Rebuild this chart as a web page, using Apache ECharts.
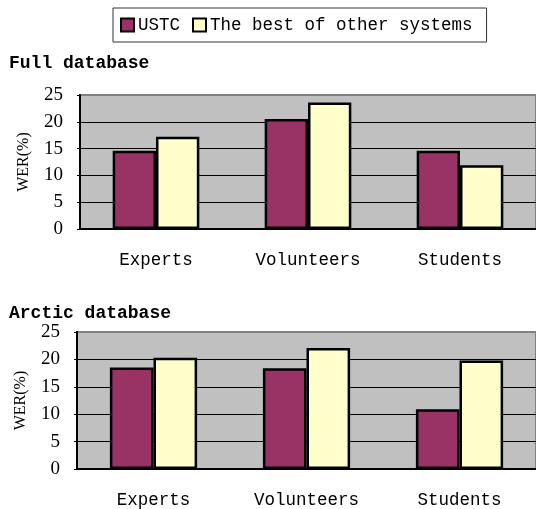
<!DOCTYPE html>
<html>
<head>
<meta charset="utf-8">
<script src="https://cdn.jsdelivr.net/npm/echarts@6/dist/echarts.min.js"></script>
<style>
  html, body { margin: 0; padding: 0; background: #fff; }
  #chart { width: 536px; height: 509px; }
</style>
</head>
<body>
<div id="chart"></div>
<script>
  // data
  var categories = ['Experts', 'Volunteers', 'Students'];
  var seriesNames = ['USTC', 'The best of other systems'];
  var fullUstc = [14.6, 20.5, 14.6];
  var fullBest = [17.2, 23.6, 11.9];
  var arcticUstc = [18.5, 18.4, 10.9];
  var arcticBest = [20.3, 22.1, 19.8];
  var yTicks = [0, 5, 10, 15, 20, 25];

  var colors = ['#993366', '#ffffcc'];
  var mono = 'Liberation Mono';
  var serif = 'Liberation Serif';

  let myChart = echarts.init(document.getElementById('chart'));

  function xAxis(idx) {
    return {
      type: 'category',
      gridIndex: idx,
      data: categories,
      axisLine: { lineStyle: { color: '#000', width: 2 } },
      axisTick: { inside: true, length: 6, lineStyle: { color: '#000', width: 1 } },
      axisLabel: { color: '#000', fontFamily: mono, fontSize: 17.5, margin: 22 }
    };
  }
  function yAxis(idx) {
    return {
      type: 'value',
      gridIndex: idx,
      min: yTicks[0],
      max: yTicks[yTicks.length - 1],
      interval: 5,
      name: 'WER(%)',
      nameLocation: 'middle',
      nameGap: 48,
      nameTextStyle: { color: '#000', fontFamily: serif, fontSize: 16 },
      axisLine: { show: true, lineStyle: { color: '#000', width: 2 } },
      axisTick: { show: true, length: 3, lineStyle: { color: '#000' } },
      axisLabel: { color: '#000', fontFamily: serif, fontSize: 19, margin: 17 },
      // last line sits on the grey top border of the plot
      splitLine: { show: true, lineStyle: { color: ['#000', '#000', '#000', '#000', '#000', '#808080'], width: 1 } }
    };
  }
  function bar(name, idx, data, color) {
    return {
      name: name,
      type: 'bar',
      xAxisIndex: idx,
      yAxisIndex: idx,
      data: data,
      barGap: '0%',
      barCategoryGap: '43%',
      itemStyle: { color: color, borderColor: '#000', borderWidth: 2.5 }
    };
  }

  myChart.setOption({
    animation: false,
    title: [
      { text: 'Full database', left: 9, top: 54, padding: 0,
        textStyle: { fontFamily: mono, fontSize: 18, fontWeight: 'bold', color: '#000' } },
      { text: 'Arctic database', left: 9, top: 304, padding: 0,
        textStyle: { fontFamily: mono, fontSize: 18, fontWeight: 'bold', color: '#000' } }
    ],
    legend: {
      data: seriesNames,
      left: 113,
      top: 8,
      padding: [8, 14, 8, 7],
      itemWidth: 13,
      itemHeight: 13,
      itemGap: 12,
      icon: 'rect',
      borderColor: '#333',
      borderWidth: 1,
      backgroundColor: '#fff',
      textStyle: { fontFamily: mono, fontSize: 17.5, color: '#000', padding: [0, 0, 0, -1] },
      itemStyle: { borderColor: '#000', borderWidth: 2 }
    },
    grid: [
      { left: 80, top: 95, width: 459, height: 134, show: true,
        backgroundColor: '#c0c0c0', borderColor: '#808080', borderWidth: 2 },
      { left: 77, top: 332, width: 462, height: 137, show: true,
        backgroundColor: '#c0c0c0', borderColor: '#808080', borderWidth: 2 }
    ],
    xAxis: [xAxis(0), xAxis(1)],
    yAxis: [yAxis(0), yAxis(1)],
    series: [
      bar(seriesNames[0], 0, fullUstc, colors[0]),
      bar(seriesNames[1], 0, fullBest, colors[1]),
      bar(seriesNames[0], 1, arcticUstc, colors[0]),
      bar(seriesNames[1], 1, arcticBest, colors[1])
    ]
  });
</script>
</body>
</html>
